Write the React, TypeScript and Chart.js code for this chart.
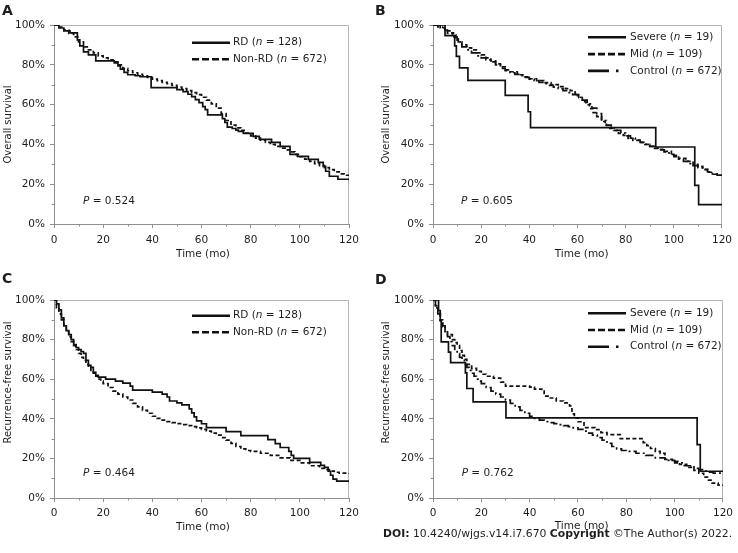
import React, { useEffect, useRef } from "react";
import { Chart, registerables } from "chart.js";
Chart.register(...registerables);

// ---------- tick values / labels ----------
const xTickValues = [0, 20, 40, 60, 80, 100, 120];
const xTickLabels = ["0", "20", "40", "60", "80", "100", "120"];
const xMinorTicks = [10, 30, 50, 70, 90, 110];
const yTickValues = [0, 0.2, 0.4, 0.6, 0.8, 1.0];
const yTickLabels = ["0%", "20%", "40%", "60%", "80%", "100%"];
const yMinorTicks = [0.1, 0.3, 0.5, 0.7, 0.9];

// ---------- groups ----------
const twoGroupNames = ["RD", "Non-RD"];
const twoGroupN = ["128", "672"];
const threeGroupNames = ["Severe", "Mid", "Control"];
const threeGroupN = ["19", "109", "672"];
const pValues = ["0.524", "0.605", "0.464", "0.762"];
const panelLetters = ["A", "B", "C", "D"];
const yTitles = ["Overall survival", "Overall survival", "Recurrence-free survival", "Recurrence-free survival"];
const xTitle = "Time (mo)";

// ---------- Overall survival ----------
const osRdTime = [0, 2, 4, 6.5, 9.5, 10.5, 12, 14, 17, 24.5, 26, 27, 28.5, 30, 33, 35, 39.5, 50, 52.5, 54.5, 56, 57.5, 59, 60.5, 61.5, 62.5, 68.5, 69.5, 70.5, 72.5, 74, 75, 77, 81, 83.5, 88.5, 92, 96, 99, 103.5, 107.5, 109.5, 110.5, 112, 115.5, 120];
const osRdSurv = [1, 0.985, 0.97, 0.96, 0.925, 0.895, 0.865, 0.85, 0.82, 0.81, 0.795, 0.778, 0.762, 0.75, 0.745, 0.74, 0.685, 0.675, 0.665, 0.652, 0.64, 0.625, 0.61, 0.59, 0.575, 0.548, 0.53, 0.51, 0.487, 0.48, 0.472, 0.465, 0.455, 0.44, 0.425, 0.41, 0.39, 0.35, 0.34, 0.325, 0.31, 0.29, 0.265, 0.24, 0.225, 0.22];

const osNonRdTime = [0, 2, 4, 6, 8, 10, 12, 14, 16, 18, 20, 22, 24, 26, 28, 30, 32, 34, 36, 38, 40, 42, 44, 46, 48, 50, 52, 54, 56, 58, 60, 62, 64, 66, 68, 70, 72, 74, 76, 78, 80, 82, 84, 86, 88, 90, 92, 94, 96, 98, 100, 102, 104, 106, 108, 110, 112, 114, 116, 118, 120];
const osNonRdSurv = [1, 0.99, 0.975, 0.958, 0.94, 0.915, 0.89, 0.875, 0.86, 0.845, 0.835, 0.825, 0.815, 0.8, 0.782, 0.77, 0.76, 0.752, 0.745, 0.737, 0.728, 0.72, 0.712, 0.705, 0.697, 0.688, 0.68, 0.67, 0.66, 0.65, 0.637, 0.622, 0.604, 0.582, 0.555, 0.52, 0.497, 0.483, 0.47, 0.457, 0.443, 0.432, 0.421, 0.41, 0.4, 0.39, 0.381, 0.372, 0.362, 0.35, 0.338, 0.326, 0.315, 0.303, 0.293, 0.283, 0.273, 0.262, 0.252, 0.245, 0.238];

const osSevereTime = [0, 5, 9, 9.7, 11, 14.5, 30, 39.5, 40.5, 92.5, 108.7, 110.3, 120];
const osSevereSurv = [1, 0.947, 0.895, 0.842, 0.785, 0.722, 0.646, 0.564, 0.484, 0.387, 0.194, 0.097, 0.097];

const osMidTime = [0, 3, 5, 7, 8.5, 9.5, 10.5, 12, 14, 16, 18, 20, 22, 24, 26, 28, 30, 32, 35, 38, 40, 43, 46, 49, 52, 55, 57, 59, 60.5, 62, 63.5, 65, 66.5, 68, 70, 71.5, 73, 75, 77, 79, 81, 83, 86, 88, 90, 92, 94.5, 96, 99, 102, 105, 108, 110, 112, 114, 116, 118, 120];
const osMidSurv = [1, 0.985, 0.97, 0.96, 0.95, 0.93, 0.915, 0.9, 0.885, 0.875, 0.86, 0.85, 0.835, 0.82, 0.805, 0.79, 0.775, 0.765, 0.75, 0.74, 0.73, 0.72, 0.71, 0.7, 0.69, 0.68, 0.67, 0.655, 0.635, 0.615, 0.6, 0.58, 0.56, 0.54, 0.515, 0.495, 0.48, 0.47, 0.455, 0.445, 0.43, 0.42, 0.41, 0.4, 0.39, 0.38, 0.375, 0.365, 0.345, 0.33, 0.315, 0.3, 0.29, 0.275, 0.26, 0.25, 0.245, 0.24];

// ---------- Recurrence-free survival ----------
const rfsRdTime = [0, 1, 2, 3, 4, 5, 6, 7, 8, 9, 10, 11, 12, 13, 14, 15, 16, 17, 18, 21, 25, 28, 31, 32, 40, 44, 46, 47, 50, 52, 55, 56, 57, 58, 60, 62, 70, 76, 87, 90, 92, 95.5, 96.5, 97.5, 104, 108.5, 110, 111.5, 112.5, 113.5, 115, 120];
const rfsRdSurv = [1, 0.98, 0.95, 0.91, 0.87, 0.845, 0.825, 0.8, 0.775, 0.76, 0.75, 0.74, 0.73, 0.695, 0.67, 0.66, 0.635, 0.62, 0.61, 0.6, 0.59, 0.58, 0.565, 0.545, 0.535, 0.525, 0.51, 0.49, 0.48, 0.47, 0.45, 0.43, 0.41, 0.39, 0.375, 0.355, 0.335, 0.315, 0.295, 0.275, 0.255, 0.235, 0.215, 0.2, 0.18, 0.165, 0.155, 0.135, 0.115, 0.095, 0.085, 0.085];

const rfsNonRdTime = [0, 1, 2, 3, 4, 5, 6, 7, 8, 9, 10, 11, 12, 13, 14, 15, 16, 17, 18, 19, 20, 22, 24, 26, 28, 30, 32, 34, 36, 38, 40, 42, 44, 46, 48, 50, 52, 54, 56, 58, 60, 62, 64, 66, 68, 70, 72, 74, 76, 78, 80, 84, 88, 92, 96, 100, 104, 108, 110, 112, 114, 116, 120];
const rfsNonRdSurv = [1, 0.96, 0.93, 0.9, 0.87, 0.84, 0.815, 0.79, 0.77, 0.75, 0.73, 0.71, 0.695, 0.675, 0.66, 0.645, 0.63, 0.615, 0.6, 0.59, 0.578, 0.558, 0.54, 0.525, 0.51, 0.495, 0.478, 0.46, 0.443, 0.428, 0.413, 0.402, 0.393, 0.386, 0.381, 0.376, 0.371, 0.366, 0.36, 0.354, 0.347, 0.338, 0.328, 0.318, 0.305, 0.292, 0.276, 0.26, 0.248, 0.24, 0.235, 0.226, 0.215, 0.203, 0.19, 0.177, 0.163, 0.15, 0.143, 0.136, 0.13, 0.126, 0.122];

const rfsSevereTime = [0, 2.3, 3, 3.4, 6.4, 7.3, 13.4, 14, 16.6, 30.2, 109.3, 110.6, 120];
const rfsSevereSurv = [1, 0.947, 0.895, 0.789, 0.737, 0.684, 0.632, 0.553, 0.485, 0.405, 0.27, 0.135, 0.135];

const rfsMidTime = [0, 1, 2, 3, 4, 5, 6, 8, 9, 10, 11, 12, 13, 14, 16, 18, 20, 22, 25, 28, 30, 40, 42, 45, 46, 48, 51, 54, 56.5, 57.5, 58.5, 60, 62.5, 67, 69.5, 72, 77.5, 87, 88.5, 90, 92, 94, 96, 99, 102, 105, 108, 110, 112, 114, 115.5, 118, 120];
const rfsMidSurv = [1, 0.97, 0.94, 0.9, 0.865, 0.845, 0.825, 0.8, 0.785, 0.77, 0.745, 0.72, 0.7, 0.675, 0.655, 0.64, 0.625, 0.615, 0.605, 0.585, 0.565, 0.56, 0.55, 0.54, 0.515, 0.505, 0.49, 0.48, 0.465, 0.425, 0.405, 0.385, 0.355, 0.345, 0.33, 0.32, 0.3, 0.28, 0.265, 0.25, 0.235, 0.225, 0.195, 0.185, 0.17, 0.155, 0.14, 0.125, 0.105, 0.09, 0.075, 0.065, 0.06];

// ---------- styles ----------
const FONT = '"DejaVu Sans", Verdana, sans-serif';
const TEXT = "#1e1e1e";
const AXIS = "#8f8f8f";
const FRAME = "#b5b5b5";
const LINE = "#111111";
const DASH_SOLID: number[] = [];
const DASH_DASHED = [4, 2.5];
const DASH_DASHDOT = [8, 3, 2, 3];
const LEG_DASHED = [7, 3];
const LEG_DASHDOT = [21, 7, 2.5, 9];

type Series = { name: string; n: string; time: number[]; surv: number[]; dash: number[]; legDash: number[] };
type PanelCfg = {
  idx: number; left: number; top: number; w: number; h: number;
  areaTop: number; rightPad: number; yAxisW: number; xAxisH: number; xTickPad: number;
  yTitleX: number; yTitleY: number; xTitleX: number; xTitleY: number;
  legSampleX: number; legTextX: number; legRow0: number; legDy: number;
  pX: number; pY: number; series: Series[];
};

const panels: PanelCfg[] = [
  {
    idx: 0, left: 0, top: 0, w: 369, h: 276, areaTop: 25, rightPad: 20, yAxisW: 54, xAxisH: 52, xTickPad: 6,
    yTitleX: 8.3, yTitleY: 124.5, xTitleX: 203, xTitleY: 254,
    legSampleX: 192, legTextX: 233, legRow0: 42.7, legDy: 16.6, pX: 83, pY: 201.7,
    series: [
      { name: twoGroupNames[0], n: twoGroupN[0], time: osRdTime, surv: osRdSurv, dash: DASH_SOLID, legDash: DASH_SOLID },
      { name: twoGroupNames[1], n: twoGroupN[1], time: osNonRdTime, surv: osNonRdSurv, dash: DASH_DASHED, legDash: LEG_DASHED },
    ],
  },
  {
    idx: 1, left: 369, top: 0, w: 369, h: 276, areaTop: 25, rightPad: 11, yAxisW: 64, xAxisH: 52, xTickPad: 6,
    yTitleX: 386.7, yTitleY: 124.5, xTitleX: 581.7, xTitleY: 254,
    legSampleX: 588, legTextX: 630, legRow0: 37.3, legDy: 16.8, pX: 461, pY: 201.7,
    series: [
      { name: threeGroupNames[0], n: threeGroupN[0], time: osSevereTime, surv: osSevereSurv, dash: DASH_SOLID, legDash: DASH_SOLID },
      { name: threeGroupNames[1], n: threeGroupN[1], time: osMidTime, surv: osMidSurv, dash: DASH_DASHED, legDash: LEG_DASHED },
      { name: threeGroupNames[2], n: threeGroupN[2], time: osNonRdTime, surv: osNonRdSurv, dash: DASH_DASHDOT, legDash: LEG_DASHDOT },
    ],
  },
  {
    idx: 2, left: 0, top: 276, w: 369, h: 277, areaTop: 24, rightPad: 20, yAxisW: 54, xAxisH: 55, xTickPad: 5,
    yTitleX: 8.3, yTitleY: 382.5, xTitleX: 203, xTitleY: 527,
    legSampleX: 192, legTextX: 233, legRow0: 315.7, legDy: 16.6, pX: 83, pY: 473,
    series: [
      { name: twoGroupNames[0], n: twoGroupN[0], time: rfsRdTime, surv: rfsRdSurv, dash: DASH_SOLID, legDash: DASH_SOLID },
      { name: twoGroupNames[1], n: twoGroupN[1], time: rfsNonRdTime, surv: rfsNonRdSurv, dash: DASH_DASHED, legDash: LEG_DASHED },
    ],
  },
  {
    idx: 3, left: 369, top: 276, w: 369, h: 277, areaTop: 24, rightPad: 11, yAxisW: 64, xAxisH: 55, xTickPad: 5,
    yTitleX: 386.7, yTitleY: 382.5, xTitleX: 581.7, xTitleY: 526.5,
    legSampleX: 588, legTextX: 630, legRow0: 313.3, legDy: 16.7, pX: 461.7, pY: 473,
    series: [
      { name: threeGroupNames[0], n: threeGroupN[0], time: rfsSevereTime, surv: rfsSevereSurv, dash: DASH_SOLID, legDash: DASH_SOLID },
      { name: threeGroupNames[1], n: threeGroupN[1], time: rfsMidTime, surv: rfsMidSurv, dash: DASH_DASHED, legDash: LEG_DASHED },
      { name: threeGroupNames[2], n: threeGroupN[2], time: rfsNonRdTime, surv: rfsNonRdSurv, dash: DASH_DASHDOT, legDash: LEG_DASHDOT },
    ],
  },
];

function drawRich(ctx: CanvasRenderingContext2D, x: number, y: number, parts: [string, boolean][], size: number) {
  let cx = x;
  ctx.textBaseline = "middle";
  ctx.textAlign = "left";
  for (const [t, it] of parts) {
    ctx.font = `${it ? "italic " : ""}${size}px ${FONT}`;
    ctx.fillText(t, cx, y);
    cx += ctx.measureText(t).width;
  }
}

function makeDecor(p: PanelCfg) {
  const L = (ax: number) => ax - p.left;
  const T = (ay: number) => ay - p.top;
  return {
    id: "kmDecor" + p.idx,
    beforeDatasetsDraw(chart: any) {
      const { ctx, chartArea: a } = chart;
      const xs = chart.scales.x;
      const ys = chart.scales.y;
      ctx.save();
      ctx.lineWidth = 1;
      ctx.strokeStyle = FRAME;
      ctx.beginPath();
      const top = Math.round(a.top) + 0.5;
      const right = Math.round(a.right) - 0.5;
      ctx.moveTo(a.left + 1, top);
      ctx.lineTo(right, top);
      ctx.lineTo(right, a.bottom);
      ctx.stroke();
      ctx.strokeStyle = AXIS;
      ctx.beginPath();
      for (const v of xMinorTicks) {
        const px = Math.round(xs.getPixelForValue(v)) + 0.5;
        ctx.moveTo(px, a.bottom);
        ctx.lineTo(px, a.bottom + 2.5);
      }
      for (const v of yMinorTicks) {
        const py = Math.round(ys.getPixelForValue(v)) + 0.5;
        ctx.moveTo(a.left - 2.5, py);
        ctx.lineTo(a.left, py);
      }
      ctx.stroke();
      ctx.restore();
    },
    afterDraw(chart: any) {
      const { ctx } = chart;
      ctx.save();
      ctx.fillStyle = TEXT;
      // axis titles
      ctx.font = `10px ${FONT}`;
      ctx.textAlign = "center";
      ctx.textBaseline = "middle";
      ctx.save();
      ctx.translate(L(p.yTitleX), T(p.yTitleY));
      ctx.rotate(-Math.PI / 2);
      ctx.fillText(yTitles[p.idx], 0, 0);
      ctx.restore();
      ctx.font = `10.5px ${FONT}`;
      ctx.fillText(xTitle, L(p.xTitleX), T(p.xTitleY));
      // legend
      p.series.forEach((s, i) => {
        const y = T(p.legRow0 + i * p.legDy);
        ctx.save();
        ctx.strokeStyle = LINE;
        ctx.lineWidth = 2.6;
        ctx.setLineDash(s.legDash);
        ctx.beginPath();
        ctx.moveTo(L(p.legSampleX), y);
        ctx.lineTo(L(p.legSampleX + 38), y);
        ctx.stroke();
        ctx.restore();
        drawRich(ctx, L(p.legTextX), y, [[s.name + " (", false], ["n", true], [" = " + s.n + ")", false]], 10.5);
      });
      // P value
      drawRich(ctx, L(p.pX), T(p.pY), [["P", true], [" = " + pValues[p.idx], false]], 10.5);
      // panel letter
      ctx.font = `bold 14px ${FONT}`;
      ctx.textAlign = "left";
      ctx.textBaseline = "middle";
      ctx.restore();
    },
  };
}

function Panel({ p }: { p: PanelCfg }) {
  const ref = useRef<HTMLCanvasElement>(null);
  useEffect(() => {
    const canvas = ref.current;
    if (!canvas) return;
    const datasets = p.series.map((s) => ({
      label: s.name,
      data: s.time.map((t, i) => ({ x: t, y: s.surv[i] })),
      borderColor: LINE,
      borderWidth: 1.7,
      borderDash: s.dash,
      pointRadius: 0,
      pointHoverRadius: 0,
      stepped: "before" as const,
      fill: false,
      tension: 0,
    }));
    const chart = new Chart(canvas, {
      type: "line",
      data: { datasets },
      options: {
        animation: false,
        responsive: false,
        maintainAspectRatio: false,
        events: [],
        layout: { padding: { top: p.areaTop, right: p.rightPad, left: 0, bottom: 0 } },
        plugins: { legend: { display: false }, tooltip: { enabled: false }, title: { display: false } },
        scales: {
          x: {
            type: "linear",
            min: 0,
            max: 120,
            afterBuildTicks: (s: any) => { s.ticks = xTickValues.map((v) => ({ value: v })); },
            afterFit: (s: any) => { s.height = p.xAxisH; },
            ticks: {
              autoSkip: false,
              maxRotation: 0,
              padding: p.xTickPad,
              color: TEXT,
              font: { family: FONT, size: 10.5 },
              callback: (_v: any, i: number) => xTickLabels[i],
            },
            grid: { drawOnChartArea: false, drawTicks: true, tickLength: 4, color: AXIS, tickColor: AXIS },
            border: { display: true, color: AXIS, width: 1 },
          },
          y: {
            type: "linear",
            min: 0,
            max: 1,
            afterBuildTicks: (s: any) => { s.ticks = yTickValues.map((v) => ({ value: v })); },
            afterFit: (s: any) => { s.width = p.yAxisW; },
            ticks: {
              autoSkip: false,
              padding: 5,
              color: TEXT,
              font: { family: FONT, size: 10.5 },
              callback: (_v: any, i: number) => yTickLabels[i],
            },
            grid: { drawOnChartArea: false, drawTicks: true, tickLength: 4, color: AXIS, tickColor: AXIS },
            border: { display: true, color: AXIS, width: 1 },
          },
        },
      },
      plugins: [makeDecor(p)],
    } as any);
    return () => chart.destroy();
  }, [p]);
  return (
    <canvas
      ref={ref}
      width={p.w}
      height={p.h}
      style={{ position: "absolute", left: p.left, top: p.top, width: p.w, height: p.h }}
    />
  );
}

const letterPos = [
  { left: 2, top: 3 },
  { left: 375, top: 3 },
  { left: 2, top: 271 },
  { left: 375, top: 272 },
];

export default function App() {
  return (
    <div
      style={{
        position: "fixed", left: 0, top: 0, width: 738, height: 553, background: "#fff",
        overflow: "hidden", fontFamily: FONT, color: TEXT,
      }}
    >
      {panels.map((p) => (
        <Panel key={p.idx} p={p} />
      ))}
      {panelLetters.map((l, i) => (
        <div
          key={l}
          style={{
            position: "absolute", left: letterPos[i].left, top: letterPos[i].top,
            fontSize: 14, lineHeight: "14px", fontWeight: "bold",
          }}
        >
          {l}
        </div>
      ))}
      <div
        style={{
          position: "absolute", left: 383, top: 529, fontSize: 10.8, lineHeight: "10.8px",
          whiteSpace: "nowrap",
        }}
      >
        <b>DOI:</b> 10.4240/wjgs.v14.i7.670 <b>Copyright</b> ©The Author(s) 2022.
      </div>
    </div>
  );
}
